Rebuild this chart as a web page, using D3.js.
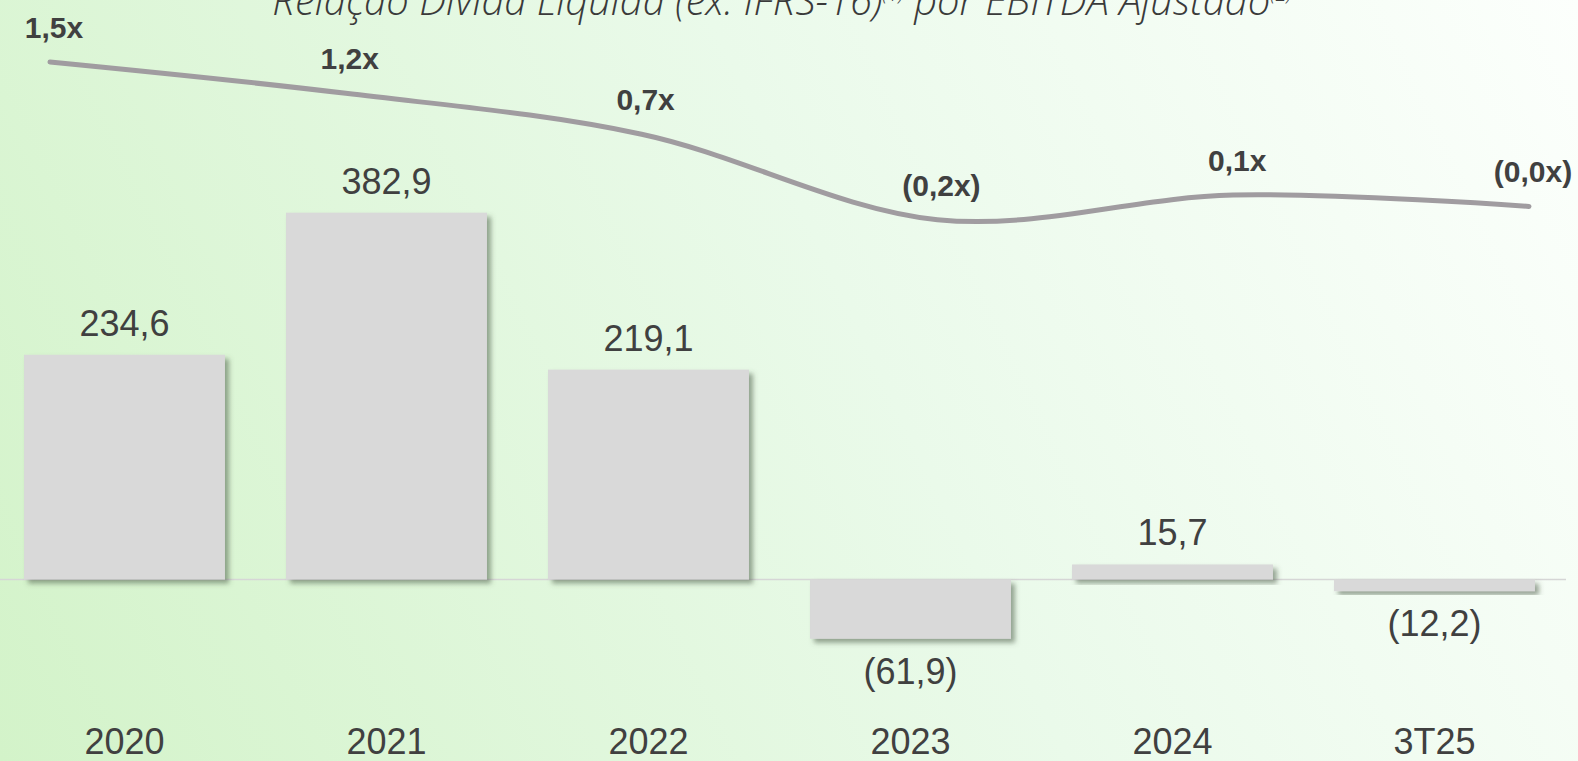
<!DOCTYPE html>
<html><head><meta charset="utf-8">
<script src="https://cdn.jsdelivr.net/npm/d3@7"></script>
<style>
html,body{margin:0;padding:0;overflow:hidden;background:#fff;}
svg{display:block;}
</style></head>
<body>
<svg id="chart" width="1578" height="761"></svg>
<script>
const categories = ["2020", "2021", "2022", "2023", "2024", "3T25"];
const netDebt = [234.6, 382.9, 219.1, -61.9, 15.7, -12.2];
const leverage = [1.5, 1.17, 0.74, -0.16, 0.1, -0.02];
const title = "Relação Dívida Líquida (ex. IFRS-16)";
const titleSup1 = "(1)";
const titleMid = " por EBITDA Ajustado";
const titleSup2 = "(2)";

const W = 1578, H = 761;
const svg = d3.select("#chart");
const defs = svg.append("defs");

const grad = defs.append("linearGradient").attr("id", "bg")
  .attr("gradientUnits", "userSpaceOnUse")
  .attr("x1", 0).attr("y1", H).attr("x2", W).attr("y2", 0);
grad.append("stop").attr("offset", "0").attr("stop-color", "#d3f3c9");
grad.append("stop").attr("offset", "0.55").attr("stop-color", "#eafaea");
grad.append("stop").attr("offset", "1").attr("stop-color", "#fcfffc");

const sh = defs.append("filter").attr("id", "shadow")
  .attr("x", "-10%").attr("y", "-10%").attr("width", "130%").attr("height", "140%");
sh.append("feDropShadow").attr("dx", 4).attr("dy", 4).attr("stdDeviation", 2.5)
  .attr("flood-color", "#4d5c48").attr("flood-opacity", 0.55);

svg.append("rect").attr("width", W).attr("height", H).attr("fill", "url(#bg)");

// Scales
const x = d3.scaleBand().domain(categories).range([-6.5, 1565.5])
  .paddingInner(0.233).paddingOuter(0.1165);
const y = d3.scaleLinear().domain([-100, 400]).range([675.3, 196.3]);
const xl = d3.scalePoint().domain(categories).range([50, 1529]);
const yl = d3.scaleLinear().domain([0, 1.5]).range([204.5, 62]);

const fmtBar = v => (v < 0 ? "(" + Math.abs(v).toFixed(1) + ")" : v.toFixed(1)).replace(".", ",");
const fmtLev = v => {
  const s = Math.abs(v).toFixed(1).replace(".", ",") + "x";
  return v < 0 ? "(" + s + ")" : s;
};

// Title
const t = svg.append("text").attr("x", 782).attr("y", 15).attr("text-anchor", "middle")
  .attr("font-family", "'Open Sans', 'Noto Sans', sans-serif").attr("font-style", "italic")
  .attr("font-weight", 300).attr("font-size", 40).attr("fill", "#3a3a3a");
t.append("tspan").text(title);
t.append("tspan").attr("font-size", 20).attr("dy", -14).text(titleSup1);
t.append("tspan").attr("dy", 14).text(titleMid);
t.append("tspan").attr("font-size", 20).attr("dy", -14).text(titleSup2);

// Zero line
svg.append("line").attr("x1", 0).attr("x2", 1566)
  .attr("y1", y(0)).attr("y2", y(0)).attr("stroke", "#d6d6d6").attr("stroke-width", 1.5);

// Bars
svg.append("g").selectAll("rect").data(categories).join("rect")
  .attr("x", d => x(d)).attr("width", x.bandwidth())
  .attr("y", (d, i) => Math.min(y(0), y(netDebt[i])))
  .attr("height", (d, i) => Math.abs(y(netDebt[i]) - y(0)))
  .attr("fill", "#d9d9d9").attr("filter", "url(#shadow)");

// Bar labels
svg.append("g").selectAll("text").data(categories).join("text")
  .attr("x", d => x(d) + x.bandwidth() / 2)
  .attr("y", (d, i) => netDebt[i] >= 0 ? y(netDebt[i]) - 19 : y(netDebt[i]) + 45)
  .attr("text-anchor", "middle")
  .attr("font-family", "'Liberation Sans', Arial, sans-serif").attr("font-size", 36)
  .attr("fill", "#404040")
  .text((d, i) => fmtBar(netDebt[i]));

// Category axis labels
svg.append("g").selectAll("text").data(categories).join("text")
  .attr("x", d => x(d) + x.bandwidth() / 2).attr("y", 754)
  .attr("text-anchor", "middle")
  .attr("font-family", "'Liberation Sans', Arial, sans-serif").attr("font-size", 36)
  .attr("fill", "#404040").text(d => d);

// Leverage line
const line = d3.line().x((d, i) => xl(categories[i])).y(d => yl(d))
  .curve(d3.curveCardinal.tension(0));
svg.append("path").datum(leverage).attr("d", line)
  .attr("fill", "none").attr("stroke", "#a09ca0").attr("stroke-width", 5)
  .attr("stroke-linecap", "round").attr("stroke-linejoin", "round");

svg.append("g").selectAll("text").data(leverage).join("text")
  .attr("x", (d, i) => xl(categories[i]) + 4).attr("y", d => yl(d) - 24)
  .attr("text-anchor", "middle")
  .attr("font-family", "'Liberation Sans', Arial, sans-serif").attr("font-size", 30)
  .attr("font-weight", "bold").attr("fill", "#404040")
  .text(d => fmtLev(d));
</script>
</body></html>
